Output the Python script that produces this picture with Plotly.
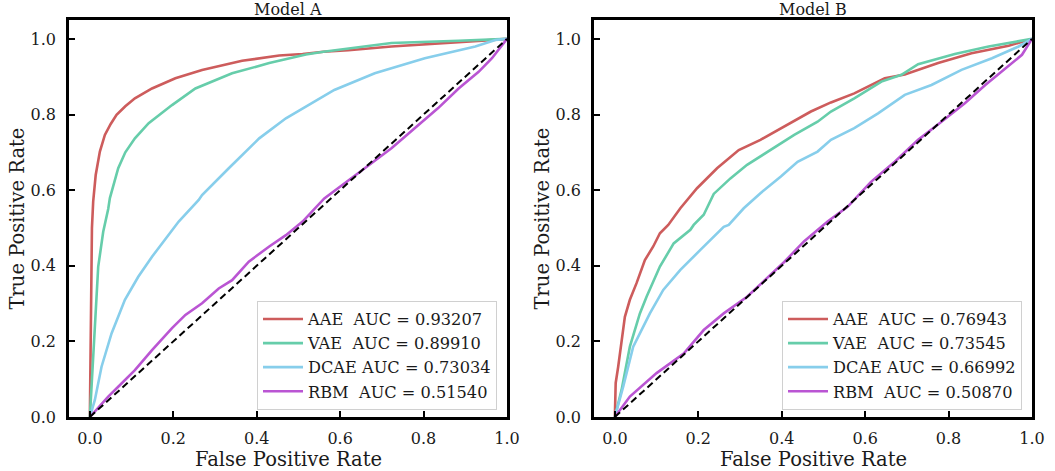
import plotly.graph_objects as go

# ---------------- data ----------------
panel_titles = ["Model A", "Model B"]
x_title = "False Positive Rate"
y_title = "True Positive Rate"
model_names = ["AAE", "VAE", "DCAE", "RBM"]
auc_a = ["0.93207", "0.89910", "0.73034", "0.51540"]
auc_b = ["0.76943", "0.73545", "0.66992", "0.50870"]

a_aae_fpr = [0, 0.002, 0.003, 0.005, 0.008, 0.014, 0.024, 0.036, 0.05, 0.064, 0.085, 0.108, 0.149, 0.205, 0.269, 0.365, 0.454, 0.51, 0.56, 0.62, 0.723, 0.884, 0.95, 1.0]
a_aae_tpr = [0, 0.2, 0.4, 0.5, 0.57, 0.64, 0.702, 0.746, 0.775, 0.799, 0.822, 0.843, 0.869, 0.896, 0.918, 0.942, 0.956, 0.960, 0.966, 0.970, 0.980, 0.990, 0.996, 1.0]

a_vae_fpr = [0, 0.004, 0.008, 0.012, 0.02, 0.032, 0.036, 0.044, 0.048, 0.068, 0.085, 0.108, 0.141, 0.197, 0.253, 0.341, 0.43, 0.518, 0.56, 0.62, 0.723, 0.884, 1.0]
a_vae_tpr = [0, 0.08, 0.15, 0.221, 0.397, 0.49, 0.508, 0.55, 0.579, 0.658, 0.70, 0.737, 0.777, 0.825, 0.869, 0.909, 0.936, 0.959, 0.966, 0.975, 0.989, 0.995, 1.0]

a_dcae_fpr = [0, 0.008, 0.012, 0.028, 0.052, 0.084, 0.116, 0.149, 0.197, 0.213, 0.261, 0.269, 0.333, 0.406, 0.47, 0.518, 0.586, 0.683, 0.803, 0.924, 0.972, 1.0]
a_dcae_tpr = [0, 0.027, 0.045, 0.133, 0.221, 0.31, 0.371, 0.424, 0.495, 0.517, 0.574, 0.587, 0.658, 0.737, 0.79, 0.821, 0.865, 0.909, 0.949, 0.980, 0.997, 1.0]

a_rbm_fpr = [0, 0.02, 0.044, 0.068, 0.108, 0.149, 0.197, 0.229, 0.269, 0.309, 0.341, 0.381, 0.43, 0.47, 0.51, 0.562, 0.614, 0.659, 0.723, 0.787, 0.835, 0.884, 0.932, 0.964, 1.0]
a_rbm_tpr = [0, 0.025, 0.054, 0.080, 0.124, 0.177, 0.235, 0.27, 0.301, 0.340, 0.362, 0.411, 0.451, 0.481, 0.517, 0.578, 0.62, 0.658, 0.711, 0.772, 0.817, 0.869, 0.913, 0.949, 1.0]

b_aae_fpr = [0, 0.002, 0.008, 0.016, 0.024, 0.036, 0.052, 0.072, 0.092, 0.108, 0.128, 0.157, 0.197, 0.245, 0.297, 0.349, 0.406, 0.47, 0.518, 0.574, 0.647, 0.695, 0.775, 0.855, 0.944, 1.0]
b_aae_tpr = [0, 0.09, 0.133, 0.195, 0.265, 0.31, 0.354, 0.415, 0.451, 0.486, 0.508, 0.552, 0.605, 0.658, 0.706, 0.733, 0.768, 0.808, 0.832, 0.856, 0.896, 0.906, 0.936, 0.962, 0.982, 1.0]

b_vae_fpr = [0, 0.016, 0.036, 0.06, 0.076, 0.108, 0.141, 0.181, 0.189, 0.213, 0.237, 0.277, 0.317, 0.373, 0.43, 0.486, 0.518, 0.574, 0.639, 0.687, 0.727, 0.815, 0.896, 1.0]
b_vae_tpr = [0, 0.071, 0.186, 0.274, 0.318, 0.398, 0.459, 0.495, 0.508, 0.535, 0.59, 0.631, 0.667, 0.706, 0.746, 0.781, 0.808, 0.843, 0.887, 0.905, 0.933, 0.960, 0.980, 1.0]

b_dcae_fpr = [0, 0.02, 0.044, 0.084, 0.116, 0.157, 0.205, 0.261, 0.273, 0.309, 0.349, 0.398, 0.438, 0.486, 0.518, 0.574, 0.631, 0.695, 0.759, 0.831, 0.904, 0.968, 1.0]
b_dcae_tpr = [0, 0.080, 0.186, 0.274, 0.336, 0.389, 0.442, 0.503, 0.508, 0.552, 0.592, 0.636, 0.675, 0.702, 0.733, 0.764, 0.803, 0.852, 0.878, 0.918, 0.949, 0.980, 1.0]

b_rbm_fpr = [0, 0.036, 0.1, 0.133, 0.165, 0.213, 0.261, 0.317, 0.357, 0.406, 0.454, 0.51, 0.558, 0.614, 0.671, 0.727, 0.783, 0.839, 0.888, 0.936, 0.976, 1.0]
b_rbm_tpr = [0, 0.054, 0.116, 0.142, 0.168, 0.230, 0.274, 0.318, 0.36, 0.41, 0.465, 0.517, 0.556, 0.622, 0.675, 0.733, 0.781, 0.830, 0.878, 0.922, 0.958, 1.0]

chance_x = [0, 1]
chance_y = [0, 1]

x_ticks = [0.0, 0.2, 0.4, 0.6, 0.8, 1.0]
y_ticks = [0.0, 0.2, 0.4, 0.6, 0.8, 1.0]
tick_text = ["0.0", "0.2", "0.4", "0.6", "0.8", "1.0"]

# ---------------- styling ----------------
colors = ["#cd5c5c", "#66cdaa", "#87ceeb", "#ba55d3"]
FONT = "DejaVu Serif"
TXT = "#1a1a1a"
NBSP = "\u00a0"

def label(name, auc):
    pad = "" if len(name) >= 4 else NBSP
    return f"{name}{pad} AUC = {auc}"

panels = [
    dict(curves=[(a_aae_fpr, a_aae_tpr), (a_vae_fpr, a_vae_tpr), (a_dcae_fpr, a_dcae_tpr), (a_rbm_fpr, a_rbm_tpr)],
         aucs=auc_a, xaxis="x", yaxis="y", legend="legend"),
    dict(curves=[(b_aae_fpr, b_aae_tpr), (b_vae_fpr, b_vae_tpr), (b_dcae_fpr, b_dcae_tpr), (b_rbm_fpr, b_rbm_tpr)],
         aucs=auc_b, xaxis="x2", yaxis="y2", legend="legend2"),
]

fig = go.Figure()
for p in panels:
    for i, (fx, ty) in enumerate(p["curves"]):
        fig.add_trace(go.Scatter(
            x=fx, y=ty, mode="lines", name=label(model_names[i], p["aucs"][i]),
            line=dict(color=colors[i], width=2.6), xaxis=p["xaxis"], yaxis=p["yaxis"],
            legend=p["legend"]))
    fig.add_trace(go.Scatter(
        x=chance_x, y=chance_y, mode="lines", showlegend=False,
        line=dict(color="black", width=2, dash="7px,4px"),
        xaxis=p["xaxis"], yaxis=p["yaxis"]))

W, H = 1055, 471
dom_x = [[69 / W, 507 / W], [594 / W, 1032 / W]]
dom_y = [1 - 417 / H, 1 - 20 / H]

axis_common = dict(
    showline=True, linecolor="black", linewidth=2.5, mirror=True,
    ticks="inside", ticklen=6, tickwidth=2, tickcolor="black",
    showgrid=False, zeroline=False, automargin=False,
    tickfont=dict(family=FONT, size=16, color=TXT),
    tickmode="array",
)

for k, suffix in enumerate(["", "2"]):
    fig.layout["xaxis" + suffix] = dict(
        axis_common, domain=dom_x[k], range=[-0.05, 1.0], anchor=("y" + suffix),
        tickvals=x_ticks, ticktext=tick_text, ticklabelstandoff=5)
    fig.layout["yaxis" + suffix] = dict(
        axis_common, domain=dom_y, range=[0, 1.05], anchor=("x" + suffix),
        tickvals=y_ticks, ticktext=tick_text, ticklabelstandoff=7)

annotations = []
for k in range(2):
    cx = (dom_x[k][0] + dom_x[k][1]) / 2
    annotations.append(dict(text=panel_titles[k], x=cx, y=1 - 10 / H, xref="paper", yref="paper",
                            showarrow=False, font=dict(family=FONT, size=16, color=TXT),
                            xanchor="center", yanchor="middle"))
    annotations.append(dict(text=x_title, x=cx, y=1 - 459 / H, xref="paper", yref="paper",
                            showarrow=False, font=dict(family=FONT, size=19.5, color=TXT),
                            xanchor="center", yanchor="middle"))
    annotations.append(dict(text=y_title, x=(dom_x[k][0] * W - 52) / W, y=(dom_y[0] + dom_y[1]) / 2,
                            xref="paper", yref="paper", textangle=-90,
                            showarrow=False, font=dict(family=FONT, size=19.5, color=TXT),
                            xanchor="center", yanchor="middle"))

legend_common = dict(
    bgcolor="rgba(255,255,255,0.85)", bordercolor="#d0d0d0", borderwidth=1,
    font=dict(family=FONT, size=16.2, color=TXT),
    xanchor="right", yanchor="bottom", traceorder="normal", itemwidth=40,
)
fig.update_layout(
    width=W, height=H,
    margin=dict(l=0, r=0, t=0, b=0),
    paper_bgcolor="white", plot_bgcolor="white",
    legend=dict(legend_common, x=497 / W, y=1 - 410 / H),
    legend2=dict(legend_common, x=1022 / W, y=1 - 410 / H),
    annotations=annotations,
)

fig.write_html("out.html", config={"displayModeBar": False},
               post_script="document.body.style.margin='0';")
